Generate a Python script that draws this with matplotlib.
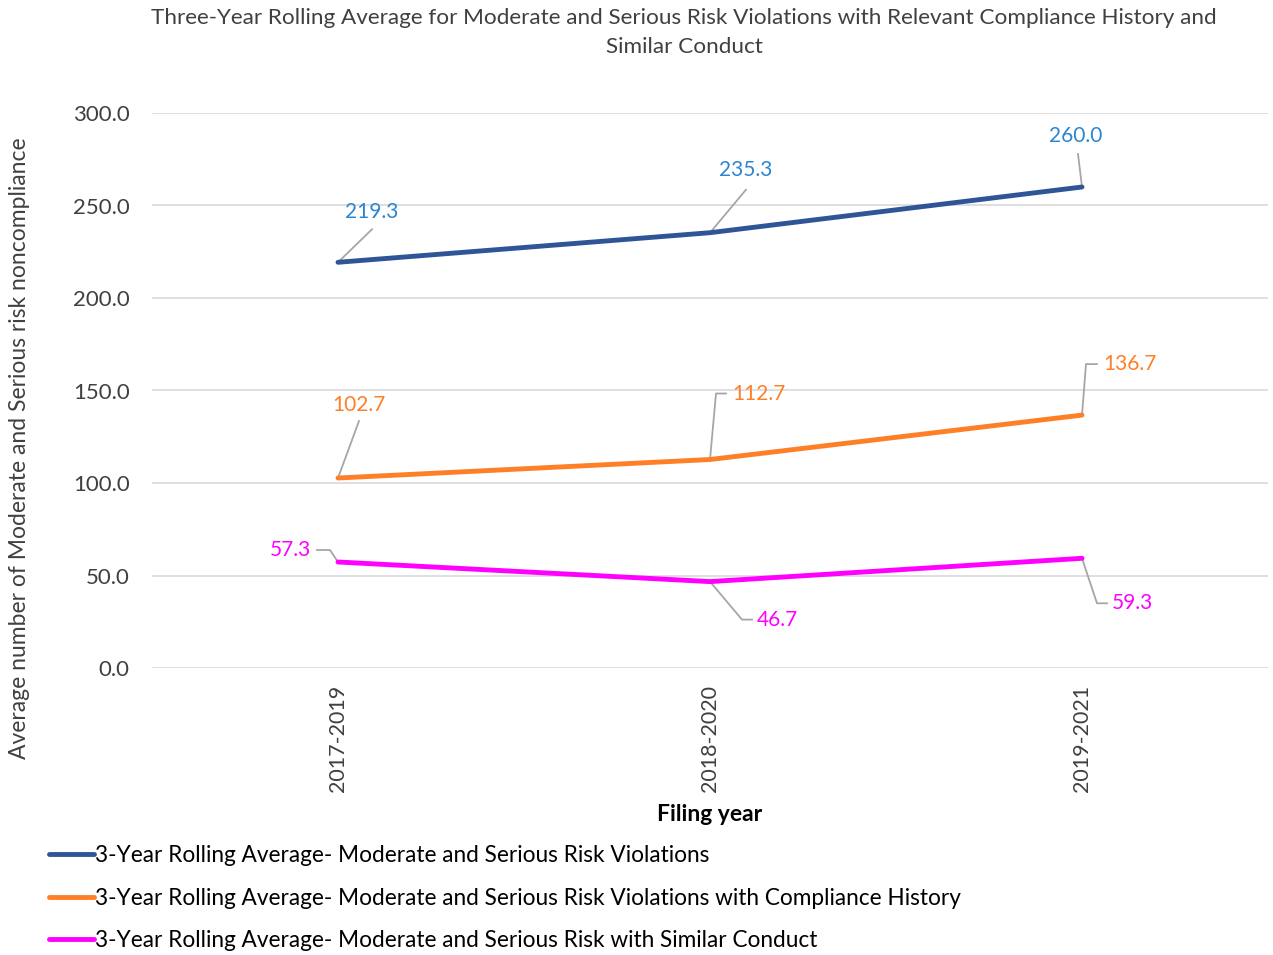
import numpy as np
from matplotlib import pyplot as plt

plt.rcParams['font.family'] = ['Lato', 'DejaVu Sans']

periods = ['2017-2019', '2018-2020', '2019-2021']
seriesNames = [
    '3-Year Rolling Average- Moderate and Serious Risk Violations',
    '3-Year Rolling Average- Moderate and Serious Risk Violations with Compliance History',
    '3-Year Rolling Average- Moderate and Serious Risk with Similar Conduct',
]
violations = [219.3, 235.3, 260.0]
complianceHistory = [102.7, 112.7, 136.7]
similarConduct = [57.3, 46.7, 59.3]

lineColors = ['#2F5597', '#FF7F27', '#FF00FF']
labelColors = ['#2B86D1', '#FF7F27', '#FF00FF']
leaderColor = '#A6A6A6'

# leader line vertices (pixel offsets from the point), label anchor and alignment
leaders = [
    [([(0, 0), (34, 33)], (34, 50), 'center'),
     ([(0, 0), (36, 43)], (36, 63), 'center'),
     ([(0, 0), (-4, 33)], (-6, 51), 'center')],
    [([(0, 0), (21, 57)], (21, 73), 'center'),
     ([(0, 0), (6, 66), (16, 66)], (22, 66), 'left'),
     ([(0, 0), (4, 51), (15, 51)], (21, 51), 'left')],
    [([(0, 0), (-8, 12), (-21, 12)], (-27, 12), 'right'),
     ([(0, 0), (32, -38), (42, -38)], (47, -38), 'left'),
     ([(0, 0), (15, -45), (25, -45)], (30, -45), 'left')],
]

fig = plt.figure(figsize=(12.73, 9.55), dpi=100)
ax = fig.add_axes([152 / 1273, 1 - 668 / 955, 1116 / 1273, 555 / 955])

xPos = np.arange(len(periods)) + 0.5
allSeries = [violations, complianceHistory, similarConduct]
for values, name, color in zip(allSeries, seriesNames, lineColors):
    ax.plot(xPos, values, color=color, linewidth=3.5, solid_capstyle='round', label=name, zorder=3)

ax.set_xlim(0, 3)
ax.set_ylim(0, 300)
ax.set_yticks(np.arange(0, 301, 50))
ax.set_yticklabels([f'{v:.1f}' for v in np.arange(0, 301, 50)], fontsize=16, color='#404040')
ax.set_xticks(xPos)
ax.set_xticklabels(periods, rotation=90, fontsize=15.5, color='#404040')
ax.tick_params(length=0, pad=12)
ax.tick_params(axis='y', pad=16)
ax.grid(axis='y', color='#D9D9D9', linewidth=1.2)
ax.set_axisbelow(True)
for spine in ax.spines.values():
    spine.set_visible(False)

toData = ax.transData.inverted()
for values, seriesLeaders, labelColor in zip(allSeries, leaders, labelColors):
    for x, y, (vertices, anchor, align) in zip(xPos, values, seriesLeaders):
        px, py = ax.transData.transform((x, y))
        pts = toData.transform([(px + dx, py + dy) for dx, dy in vertices])
        ax.plot(pts[:, 0], pts[:, 1], color=leaderColor, linewidth=1.3, zorder=2)
        tx, ty = toData.transform((px + anchor[0], py + anchor[1]))
        ax.text(tx, ty, f'{y:.1f}', color=labelColor, fontsize=15, ha=align, va='center')

ax.set_xlabel('Filing year', fontsize=16.5, fontweight='bold', color='black', labelpad=9)
fig.text(20 / 1273, 1 - 448 / 955, 'Average number of Moderate and Serious risk noncompliance',
         rotation=90, ha='center', va='center', fontsize=16.5, color='#404040')
fig.suptitle('Three-Year Rolling Average for Moderate and Serious Risk Violations with Relevant Compliance History and\nSimilar Conduct',
             x=684 / 1273, y=1 - 8 / 955, fontsize=16.2, color='#404040', linespacing=1.57)

fig.legend(loc='upper left', bbox_to_anchor=(40 / 1273, 1 - 836 / 955), frameon=False,
           fontsize=16.3, handlelength=2.0, handletextpad=0.05, labelspacing=0.95, borderaxespad=0)

fig.savefig('out.png', dpi=100)
